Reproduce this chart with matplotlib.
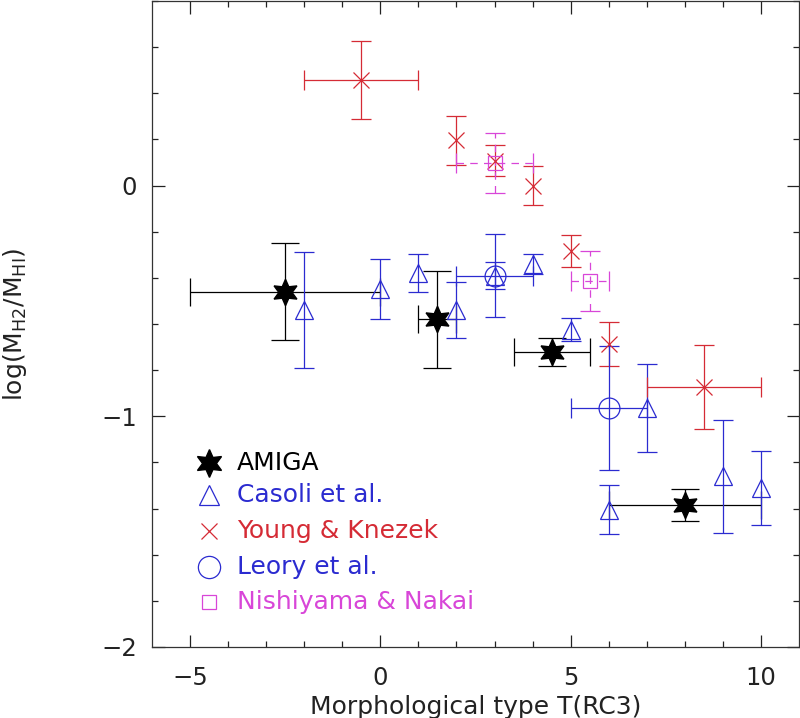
import matplotlib
matplotlib.use('Agg')
import matplotlib.pyplot as plt
import numpy as np

# AMIGA sample
amiga_t = [-2.5, 1.5, 4.5, 8.0]
amiga_r = [-0.46, -0.58, -0.72, -1.385]
amiga_terr = [2.5, 0.5, 1.0, 2.0]
amiga_rerr = [0.21, 0.21, 0.06, 0.07]

# Casoli et al.
casoli_t = [-2, 0, 1, 2, 3, 4, 5, 6, 7, 9, 10]
casoli_r = [-0.54, -0.45, -0.38, -0.54, -0.39, -0.34, -0.625, -1.405, -0.965, -1.26, -1.31]
casoli_rerr = [0.25, 0.13, 0.083, 0.12, 0.057, 0.045, 0.05, 0.107, 0.19, 0.244, 0.16]

# Young & Knezek
yk_t = [-0.5, 2, 3, 4, 5, 6, 8.5]
yk_r = [0.457, 0.196, 0.108, 0.0, -0.284, -0.687, -0.872]
yk_terr = [1.5, 0, 0, 0, 0, 0, 1.5]
yk_rerr = [0.17, 0.105, 0.067, 0.085, 0.071, 0.094, 0.183]

# Leory et al.
leroy_t = [3, 6]
leroy_r = [-0.39, -0.964]
leroy_terr = [1, 1]
leroy_rerr = [0.18, 0.27]

# Nishiyama & Nakai
nn_t = [3, 5.5]
nn_r = [0.096, -0.413]
nn_terr = [1, 0.5]
nn_rerr = [0.13, 0.13]

labels = ['AMIGA', 'Casoli et al.', 'Young & Knezek', 'Leory et al.', 'Nishiyama & Nakai']

black = '#000000'
blue = '#2b2bd0'
red = '#d52b35'
magenta = '#d846d8'

plt.rcParams['font.family'] = 'DejaVu Sans'
fs_tick = 17.5
fs = 18

fig = plt.figure(figsize=(8, 7.18), dpi=100)
ax = fig.add_axes([152.3 / 800, 71 / 718, 646.4 / 800, 646 / 718])

lw = 0.9

# AMIGA
star = (6, 1, 0)
ax.errorbar(amiga_t, amiga_r, xerr=amiga_terr, yerr=amiga_rerr, fmt='none',
            ecolor=black, elinewidth=lw, capsize=10, capthick=lw, zorder=2)
ax.plot(amiga_t, amiga_r, linestyle='none', marker=star, markersize=19,
        color=black, zorder=5)

# Casoli
ax.errorbar(casoli_t, casoli_r, yerr=casoli_rerr, fmt='^', mfc='none', mec=blue,
            ms=13, mew=lw, ecolor=blue, elinewidth=lw, capsize=7.5, capthick=lw, zorder=3)

# Young & Knezek
ax.errorbar(yk_t, yk_r, yerr=yk_rerr, fmt='x', mec=red, ms=11, mew=lw,
            ecolor=red, elinewidth=lw, capsize=7.5, capthick=lw, zorder=3)
yk_has = [i for i, e in enumerate(yk_terr) if e > 0]
ax.errorbar([yk_t[i] for i in yk_has], [yk_r[i] for i in yk_has],
            xerr=[yk_terr[i] for i in yk_has], fmt='none', ecolor=red,
            elinewidth=lw, capsize=7.5, capthick=lw, zorder=3)

# Leory
ax.errorbar(leroy_t, leroy_r, xerr=leroy_terr, yerr=leroy_rerr, fmt='o', mfc='none',
            mec=blue, ms=15, mew=lw, ecolor=blue, elinewidth=lw, capsize=7.5,
            capthick=lw, zorder=3)

# Nishiyama & Nakai (dashed bars)
eb = ax.errorbar(nn_t, nn_r, xerr=nn_terr, yerr=nn_rerr, fmt='s', mfc='none',
                 mec=magenta, ms=10, mew=lw, ecolor=magenta, elinewidth=lw,
                 capsize=7.5, capthick=lw, zorder=3)
for lc in eb[2]:
    lc.set_linestyle((0, (6, 5)))

ax.set_xlim(-6, 11)
ax.set_ylim(-2.0, 0.8)
ax.set_xticks([-5, 0, 5, 10])
ax.set_xticks(np.arange(-5, 11, 1), minor=True)
ax.set_yticks([-2, -1, 0])
ax.set_yticks(np.arange(-2, 0.81, 0.2), minor=True)
ax.tick_params(which='both', direction='in', top=True, right=True,
               labelsize=fs_tick, colors='#222222', width=0.9)
ax.tick_params(which='major', length=9)
ax.tick_params(axis='x', which='major', pad=14)
ax.tick_params(axis='y', which='major', pad=11)
ax.tick_params(which='minor', length=4.5)
for s in ax.spines.values():
    s.set_linewidth(0.9)
    s.set_color('#333333')

ax.set_xlabel('Morphological type T(RC3)', fontsize=fs, color='#222222')
ax.xaxis.set_label_coords(0.5, (647 - 695) / 646.0)
ax.set_ylabel(r'log(M$_{\mathregular{H2}}$/M$_{\mathregular{HI}}$)', fontsize=fs,
              color='#222222')
ax.yaxis.set_label_coords((29 - 152.3) / 646.4, 0.5)

# legend drawn by hand
leg_y = [0.285, 0.235, 0.180, 0.124, 0.070]
leg_style = [
    dict(marker=star, markersize=20, color=black),
    dict(marker='^', markersize=14, mfc='none', mec=blue, mew=lw),
    dict(marker='x', markersize=11, mec=red, mew=lw),
    dict(marker='o', markersize=16, mfc='none', mec=blue, mew=lw),
    dict(marker='s', markersize=10, mfc='none', mec=magenta, mew=lw),
]
leg_col = [black, blue, red, blue, magenta]
for yy, st, c, lab in zip(leg_y, leg_style, leg_col, labels):
    ax.plot([0.088], [yy], transform=ax.transAxes, linestyle='none', **st)
    ax.text(0.131, yy, lab, transform=ax.transAxes, color=c, fontsize=fs,
            va='center', ha='left')

fig.savefig('out.png', dpi=100)
